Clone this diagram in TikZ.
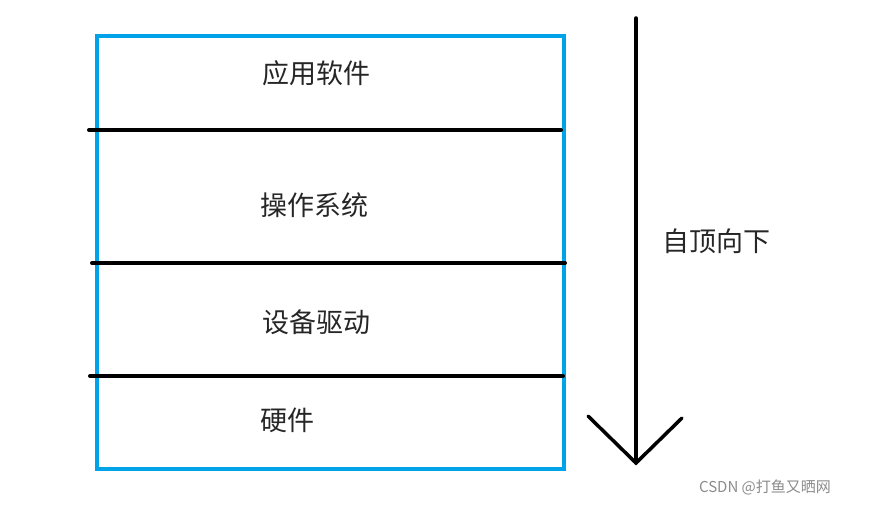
\documentclass[tikz,border=0pt]{standalone}
\usepackage{fontspec}
\newfontfamily\cjk{Noto Sans CJK SC}
\definecolor{boxblue}{RGB}{0,162,232}
\begin{document}
\begin{tikzpicture}[x=1pt,y=-1pt,
  lbl/.style={font=\cjk\fontsize{27}{30}\selectfont, text=black!85},
  sep/.style={line width=4pt, line cap=round},
  arr/.style={line width=3.5pt, line cap=round, line join=miter}]
\useasboundingbox (0,0) rectangle (879,505);
\node[draw=boxblue, line width=4pt, minimum width=467pt, minimum height=433pt, anchor=north west, inner sep=0pt] (box) at (95,34) {};
\coordinate (l1a) at (89,130); \coordinate (l1b) at (561,130);
\coordinate (l2a) at (92,263); \coordinate (l2b) at (565,263);
\coordinate (l3a) at (90,376); \coordinate (l3b) at (563,376);
\draw[sep] (l1a) -- (l1b);
\draw[sep] (l2a) -- (l2b);
\draw[sep] (l3a) -- (l3b);
\node[lbl] (t1) at (316,73) {应用软件};
\node[lbl] (t2) at (314,205) {操作系统};
\node[lbl] (t3) at (316,322) {设备驱动};
\node[lbl] (t4) at (287,420) {硬件};
\coordinate (atop) at (636,18); \coordinate (atip) at (636,463);
\coordinate (aleft) at (588,416); \coordinate (aright) at (682,418);
\draw[arr] (atop) -- (atip);
\draw[arr] (aleft) -- (atip) -- (aright);
\node[lbl] (t5) at (716,241) {自顶向下};
\node[font=\cjk\fontsize{15}{17}\selectfont, text=black!45] (wm) at (765,487) {CSDN @打鱼又晒网};
\end{tikzpicture}
\end{document}
